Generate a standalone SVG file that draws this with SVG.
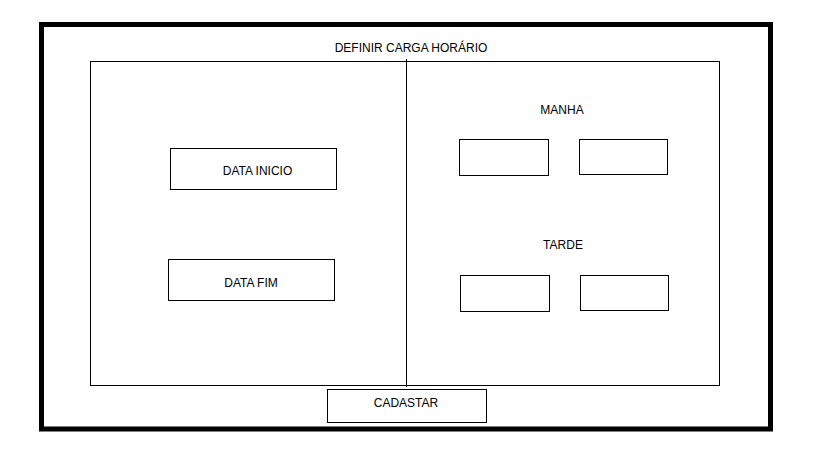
<svg xmlns="http://www.w3.org/2000/svg" width="819" height="460" viewBox="0 0 819 460">
<style>
.b{fill:#fff;stroke:#000;stroke-width:1}
.t{font-family:"Liberation Sans",Arial,sans-serif;font-size:12px;fill:#000;text-anchor:middle}
</style>
<rect width="819" height="460" fill="#fff"/>
<g id="frame">
<rect x="41.5" y="24.5" width="729" height="404.5" fill="none" stroke="#000" stroke-width="5"/>
<text class="t" x="411" y="52">DEFINIR CARGA HORÁRIO</text>
</g>
<g id="panel">
<rect class="b" x="90.5" y="61.5" width="629" height="324"/>
</g>
<g id="connectors">
<line x1="406.5" y1="59" x2="406.5" y2="387" stroke="#000" stroke-width="1"/>
</g>
<g id="data-inicio">
<rect class="b" x="170.5" y="148.5" width="166" height="41"/>
<text class="t" x="257.5" y="175">DATA INICIO</text>
</g>
<g id="data-fim">
<rect class="b" x="168.5" y="259.5" width="166" height="41"/>
<text class="t" x="251" y="287">DATA FIM</text>
</g>
<g id="manha">
<text class="t" x="562" y="114">MANHA</text>
<rect class="b" x="459.5" y="139.5" width="89" height="36"/>
<rect class="b" x="579.5" y="139.5" width="88" height="35"/>
</g>
<g id="tarde">
<text class="t" x="563" y="249">TARDE</text>
<rect class="b" x="460.5" y="275.5" width="89" height="36"/>
<rect class="b" x="580.5" y="275.5" width="88" height="35"/>
</g>
<g id="cadastar">
<rect class="b" x="327.5" y="389.5" width="159" height="33"/>
<text class="t" x="406" y="407">CADASTAR</text>
</g>
</svg>
